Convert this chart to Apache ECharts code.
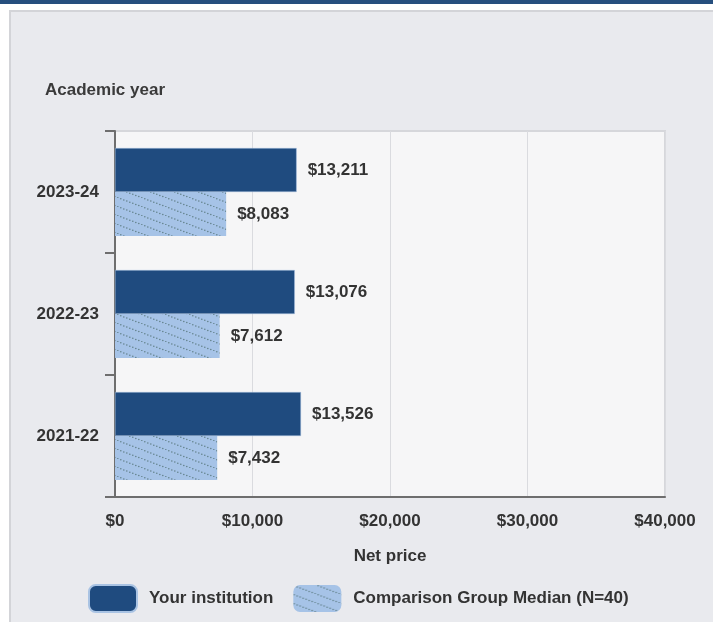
<!DOCTYPE html>
<html>
<head>
<meta charset="utf-8">
<script src="https://cdn.jsdelivr.net/npm/echarts@6/dist/echarts.min.js"></script>
<style>
html,body{margin:0;padding:0;background:#ffffff;}
#chart{width:713px;height:622px;}
</style>
</head>
<body>
<div id="chart"></div>
<script>
var categories = ['2021-22', '2022-23', '2023-24'];
var yourInstitution = [13526, 13076, 13211];
var comparisonMedian = [7432, 7612, 8083];
var xTicks = [0, 10000, 20000, 30000, 40000];
var seriesNames = ['Your institution', 'Comparison Group Median (N=40)'];

function money(v) {
  return '$' + Math.round(v).toString().replace(/\B(?=(\d{3})+(?!\d))/g, ',');
}

function makePattern() {
  var c = document.createElement('canvas');
  var W = 24, H = 9;
  c.width = W; c.height = H;
  var ctx = c.getContext('2d');
  ctx.fillStyle = '#a6c3e7';
  ctx.fillRect(0, 0, W, H);
  ctx.fillStyle = '#5f7f86';
  for (var x = 0; x < W; x += 3) {
    var y = x * H / W;
    ctx.beginPath();
    ctx.arc(x + 0.8, y + 0.8, 0.75, 0, Math.PI * 2);
    ctx.fill();
  }
  return c;
}

var chart = echarts.init(document.getElementById('chart'), null, {renderer: 'canvas'});
var font = '"Liberation Sans", Arial, sans-serif';
var patternColor = {image: makePattern(), repeat: 'repeat'};
var labelStyle = {fontFamily: font, fontSize: 17, fontWeight: 'bold', color: '#333'};

chart.setOption({
  backgroundColor: '#ffffff',
  animation: false,
  textStyle: {fontFamily: font},
  graphic: [
    {type: 'rect', left: 0, top: 0, shape: {width: 713, height: 4}, style: {fill: '#264f7e'}, z: -10},
    {type: 'rect', left: 9, top: 10, shape: {width: 704, height: 612}, style: {fill: '#d3d4d8'}, z: -10},
    {type: 'rect', left: 11, top: 12, shape: {width: 702, height: 610}, style: {fill: '#e9eaee'}, z: -9}
  ],
  title: {
    text: 'Academic year',
    left: 45, top: 82, padding: 0,
    textStyle: {fontFamily: font, fontSize: 17, fontWeight: 'bold', color: '#3a3a3a'}
  },
  legend: {
    data: seriesNames,
    left: 88, top: 584, padding: 0,
    itemWidth: 48, itemHeight: 27, itemGap: 20,
    icon: 'roundRect',
    textStyle: {fontFamily: font, fontSize: 17, fontWeight: 'bold', color: '#333', padding: [0, 0, 0, 7]}
  },
  grid: {
    left: 115, right: 48, top: 131, bottom: 125,
    show: true, backgroundColor: '#f6f6f7', borderColor: '#d6d7db', borderWidth: 2
  },
  xAxis: {
    type: 'value', min: 0, max: 40000, interval: 10000,
    name: 'Net price', nameLocation: 'middle', nameGap: 51,
    nameTextStyle: labelStyle,
    axisLine: {show: true, lineStyle: {color: '#6e6e6e', width: 2}},
    axisTick: {show: false},
    splitLine: {show: true, lineStyle: {color: '#dadbdf', width: 1}},
    axisLabel: Object.assign({margin: 16,
      formatter: function (v) { return xTicks.indexOf(v) >= 0 ? money(v) : ''; }}, labelStyle)
  },
  yAxis: {
    type: 'category', data: categories,
    axisLine: {show: true, lineStyle: {color: '#6e6e6e', width: 2}},
    axisTick: {show: true, length: 10, lineStyle: {color: '#6e6e6e', width: 2}},
    axisLabel: Object.assign({margin: 16}, labelStyle)
  },
  series: [
    {
      name: seriesNames[0], type: 'bar', data: yourInstitution,
      barWidth: 44, barGap: '0%',
      itemStyle: {color: '#1f4b7f', borderColor: '#a9c3e3', borderWidth: 0.5},
      label: Object.assign({show: true, position: 'right', distance: 11,
        formatter: function (p) { return money(p.value); }}, labelStyle)
    },
    {
      name: seriesNames[1], type: 'bar', data: comparisonMedian,
      barWidth: 44,
      itemStyle: {color: patternColor},
      label: Object.assign({show: true, position: 'right', distance: 11,
        formatter: function (p) { return money(p.value); }}, labelStyle)
    }
  ]
});
</script>
</body>
</html>
